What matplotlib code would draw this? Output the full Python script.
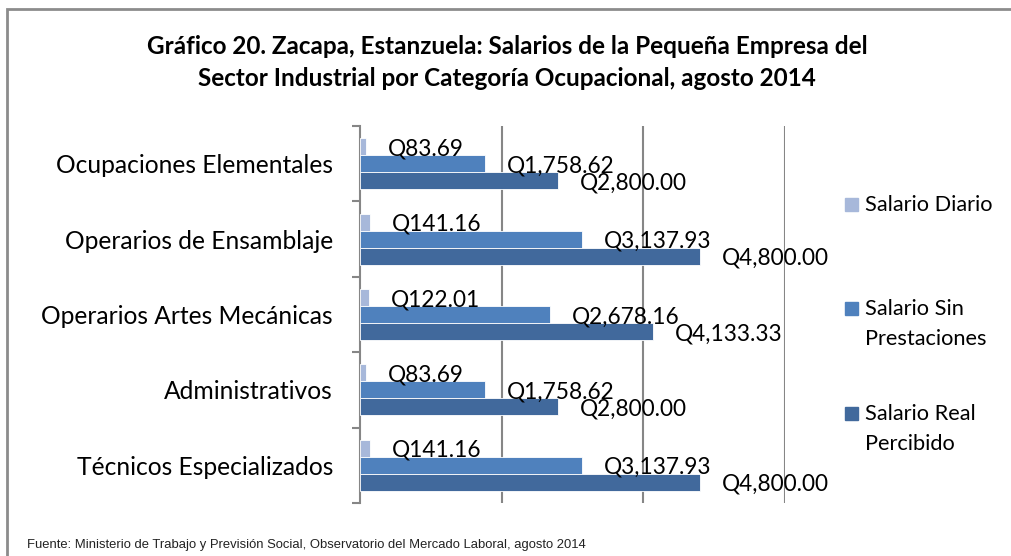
import matplotlib.pyplot as plt
from matplotlib import font_manager as fm
from matplotlib.patches import Rectangle

categorias = ["Ocupaciones Elementales", "Operarios de Ensamblaje",
              "Operarios Artes Mecánicas", "Administrativos",
              "Técnicos Especializados"]
salario_diario = [83.69, 141.16, 122.01, 83.69, 141.16]
salario_sin_prestaciones = [1758.62, 3137.93, 2678.16, 1758.62, 3137.93]
salario_real = [2800.00, 4800.00, 4133.33, 2800.00, 4800.00]
series_nombres = ["Salario Diario", "Salario Sin\nPrestaciones", "Salario Real\nPercibido"]
colores = ["#A7B8DA", "#4F81BD", "#41699C"]

TITULO = ("Gráfico 20. Zacapa, Estanzuela: Salarios de la Pequeña Empresa del\n"
          "Sector Industrial por Categoría Ocupacional, agosto 2014")
FUENTE = "Fuente: Ministerio de Trabajo y Previsión Social, Observatorio del Mercado Laboral, agosto 2014"

W, H = 1011, 556


def fuente_estrecha():
    try:
        fm.findfont("Liberation Sans Narrow", fallback_to_default=False)
        return "Liberation Sans Narrow", 11.3
    except Exception:
        return "Liberation Sans", 9.4


def main():
    plt.rcParams["font.family"] = ["Lato", "DejaVu Sans"]
    fig = plt.figure(figsize=(W / 100, H / 100), dpi=100)
    ax = fig.add_axes([360 / W, 1 - 503 / H, (785 - 360) / W, (503 - 126) / H])

    alto = 0.225
    series = [salario_diario, salario_sin_prestaciones, salario_real]
    for k, (vals, col) in enumerate(zip(series, colores)):
        pos = [i + 0.5 + (k - 1) * alto for i in range(len(categorias))]
        ax.barh(pos, vals, height=alto, color=col, edgecolor="white", linewidth=0.6, zorder=3)
        for y, v in zip(pos, vals):
            ax.annotate(f"Q{v:,.2f}", (v, y), xytext=(15.8, -1.5), textcoords="offset points",
                        ha="left", va="center", fontsize=16.3, color="black", zorder=4)

    ax.set_xlim(0, 6000)
    ax.set_ylim(len(categorias), 0)
    ax.set_xticks([2000, 4000, 6000])
    ax.grid(axis="x", color="#868686", linewidth=1.5, zorder=0)
    ax.tick_params(axis="x", length=0, labelbottom=False)

    ax.set_yticks(range(len(categorias) + 1))
    ax.set_yticklabels([])
    ax.set_yticks([i + 0.5 for i in range(len(categorias))], minor=True)
    ax.set_yticklabels(categorias, minor=True, fontsize=17.7)
    ax.tick_params(axis="y", which="major", length=5.8, width=1.5, color="#868686", direction="out")
    ax.tick_params(axis="y", which="minor", length=0, pad=19.4)

    for s in ["top", "right", "bottom"]:
        ax.spines[s].set_visible(False)
    ax.spines["left"].set_color("#868686")
    ax.spines["left"].set_linewidth(1.5)

    fig.text(507 / W, 1 - 62.5 / H, TITULO, ha="center", va="center", fontsize=17.5,
             fontweight="bold", linespacing=1.45)

    # leyenda a mano, cuadro alineado con la primera línea
    ley_y = [204, 308, 413]
    for nombre, col, y in zip(series_nombres, colores, ley_y):
        fig.patches.append(Rectangle((845 / W, 1 - (y + 6.5) / H), 13 / W, 13 / H,
                                     transform=fig.transFigure, color=col))
        fig.text(865 / W, 1 - (y - 9) / H, nombre, ha="left", va="top", fontsize=15.7,
                 linespacing=1.6)

    fam, tam = fuente_estrecha()
    fig.text(27 / W, 1 - 545 / H, FUENTE, ha="left", va="center", fontsize=tam, family=fam,
             color="#222222")

    # marco gris del gráfico
    fig.patches.append(Rectangle((7 / W, -0.2), 1.2, 1.2 - 9 / H, transform=fig.transFigure,
                                 fill=False, edgecolor="#8C8C8C", linewidth=2, clip_on=False))

    fig.savefig("out.png", dpi=100)


if __name__ == "__main__":
    main()
